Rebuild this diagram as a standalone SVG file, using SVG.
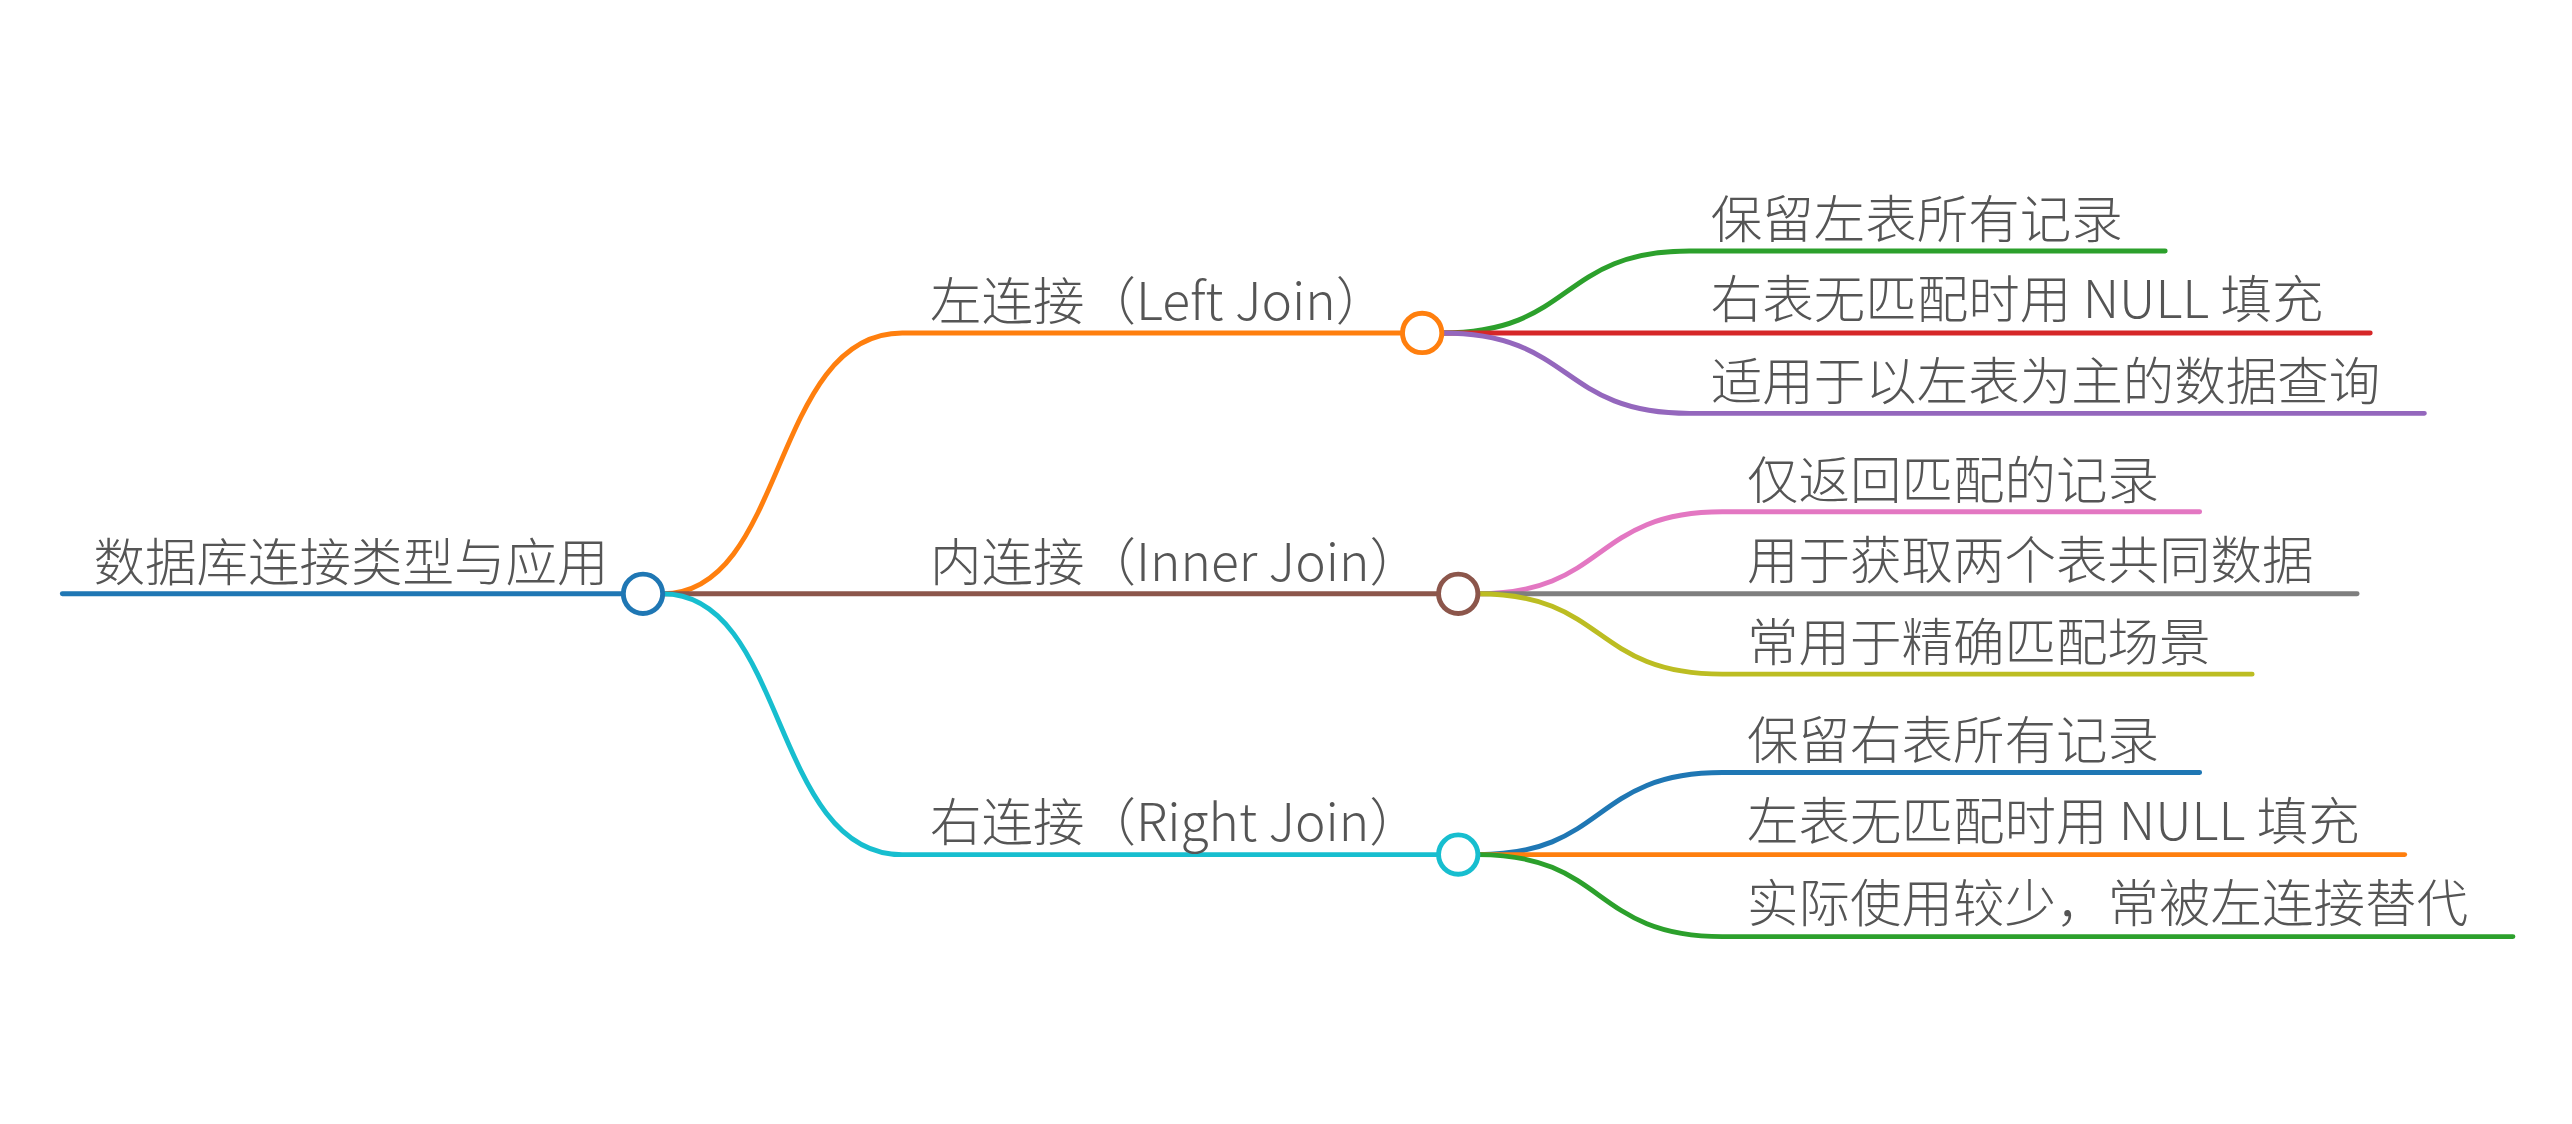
<svg xmlns="http://www.w3.org/2000/svg" width="2572" height="1124" viewBox="0 0 2572 1124">
<style>
.l{fill:none;stroke-width:3;stroke-linecap:round}
.c{fill:#fff;stroke-width:3}
text{font-family:"Noto Sans CJK SC","Noto Sans",sans-serif;font-size:31.4px;font-weight:300;fill:#555}
</style>
<rect width="2572" height="1124" fill="#fff"/>
<g transform="scale(1.6403)">
<g id="connectors">
<path class="l" stroke="#1f77b4" d="M38,362H392"/>
<path class="l" stroke="#ff7f0e" d="M404,362C480,362 470,203 550,203H855"/>
<path class="l" stroke="#8c564b" d="M404,362H877"/>
<path class="l" stroke="#17becf" d="M404,362C480,362 470,521 550,521H877"/>
<path class="l" stroke="#2ca02c" d="M879,203C960,203 950,153 1030,153H1320"/>
<path class="l" stroke="#d62728" d="M879,203H1445"/>
<path class="l" stroke="#9467bd" d="M879,203C960,203 950,252 1030,252H1478"/>
<path class="l" stroke="#e377c2" d="M901,362C980,362 970,312 1050,312H1341"/>
<path class="l" stroke="#7f7f7f" d="M901,362H1437"/>
<path class="l" stroke="#bcbd22" d="M901,362C980,362 970,411 1050,411H1373"/>
<path class="l" stroke="#1f77b4" d="M901,521C980,521 970,471 1050,471H1341"/>
<path class="l" stroke="#ff7f0e" d="M901,521H1466"/>
<path class="l" stroke="#2ca02c" d="M901,521C980,521 970,571 1050,571H1532"/>
</g>
<g id="root"><circle class="c" stroke="#1f77b4" cx="392" cy="362" r="12"/><text x="57" y="354">数据库连接类型与应用</text></g>
<g id="left"><circle class="c" stroke="#ff7f0e" cx="867" cy="203" r="12"/><text x="567" y="195">左连接（Left Join）</text></g>
<g id="inner"><circle class="c" stroke="#8c564b" cx="889" cy="362" r="12"/><text x="567" y="354">内连接（Inner Join）</text></g>
<g id="right"><circle class="c" stroke="#17becf" cx="889" cy="521" r="12"/><text x="567" y="513">右连接（Right Join）</text></g>
<g id="l1"><text x="1043" y="145">保留左表所有记录</text></g>
<g id="l2"><text x="1043" y="194">右表无匹配时用 NULL 填充</text></g>
<g id="l3"><text x="1043" y="244">适用于以左表为主的数据查询</text></g>
<g id="i1"><text x="1065" y="304">仅返回匹配的记录</text></g>
<g id="i2"><text x="1065" y="353">用于获取两个表共同数据</text></g>
<g id="i3"><text x="1065" y="403">常用于精确匹配场景</text></g>
<g id="r1"><text x="1065" y="463">保留右表所有记录</text></g>
<g id="r2"><text x="1065" y="512">左表无匹配时用 NULL 填充</text></g>
<g id="r3"><text x="1065" y="562">实际使用较少，常被左连接替代</text></g>
</g>
</svg>
